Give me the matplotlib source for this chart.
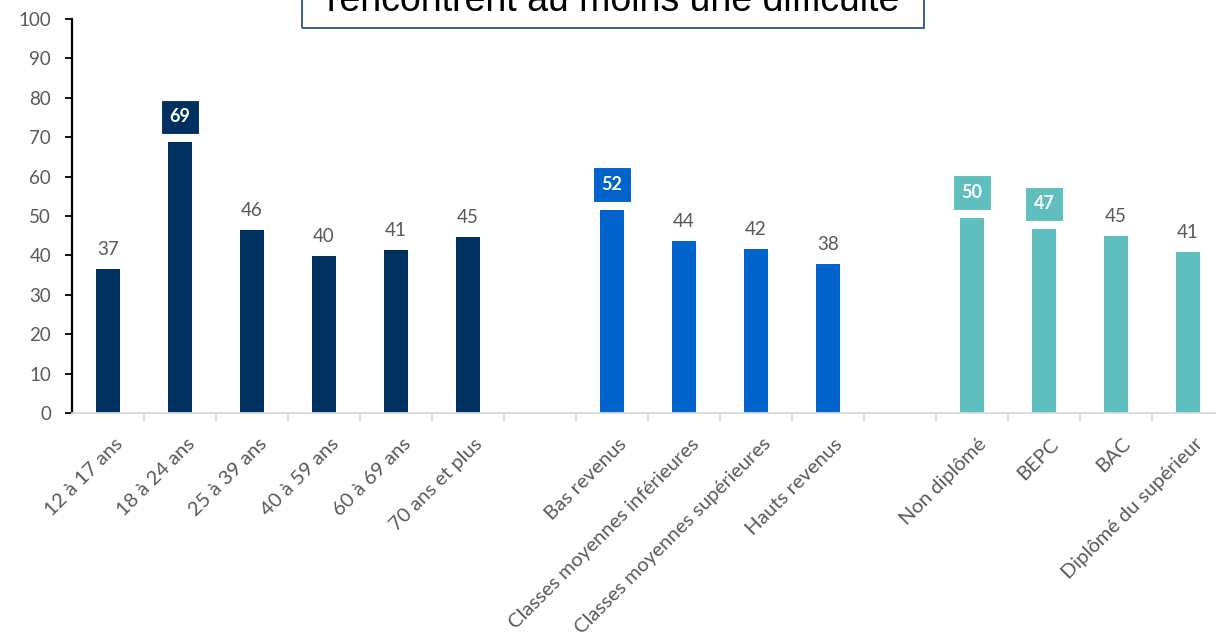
import matplotlib
matplotlib.use("Agg")
import matplotlib.pyplot as plt
from matplotlib.patches import Rectangle
from matplotlib.transforms import ScaledTranslation
import numpy as np

# ---------------- data ----------------
age_labels = ["12 à 17 ans", "18 à 24 ans", "25 à 39 ans", "40 à 59 ans", "60 à 69 ans", "70 ans et plus"]
age_values = [36.6, 68.8, 46.4, 39.8, 41.3, 44.7]
age_highlight = [False, True, False, False, False, False]

income_labels = ["Bas revenus", "Classes moyennes inférieures", "Classes moyennes supérieures", "Hauts revenus"]
income_values = [51.6, 43.7, 41.6, 37.9]
income_highlight = [True, False, False, False]

edu_labels = ["Non diplômé", "BEPC", "BAC", "Diplômé du supérieur"]
edu_values = [49.6, 46.7, 44.8, 40.9]
edu_highlight = [True, True, False, False]

title_text = "rencontrent au moins une difficulté"

yticks = list(range(0, 101, 10))

# ---------------- style ----------------
navy = "#00305F"
blue = "#0062CB"
teal = "#5FBFBF"
gray_txt = "#595959"
font = ["Lato", "DejaVu Sans"]
plt.rcParams["font.family"] = font

groups = [
    (age_labels, age_values, age_highlight, navy),
    (income_labels, income_values, income_highlight, blue),
    (edu_labels, edu_values, edu_highlight, teal),
]

fig = plt.figure(figsize=(12.16, 6.42), dpi=100)
W, H = 1216, 642
ax = fig.add_axes([72 / W, (H - 413) / H, (1224 - 72) / W, (413 - 19) / H])

xpos_all, labels_all = [], []
pos = 0
for labels, values, hl, color in groups:
    xs = np.arange(pos, pos + len(values))
    ax.bar(xs, values, width=0.32, color=color, zorder=2)
    for x, v, h in zip(xs, values, hl):
        txt = f"{v:.0f}"
        if h:
            ax.annotate(txt, (x, v), xytext=(0, 12), textcoords="offset points",
                        ha="center", va="bottom", color="white", fontsize=13,
                        fontweight="bold",
                        bbox=dict(boxstyle="square,pad=0.48", fc=color, ec="white", lw=0.8))
        else:
            ax.annotate(txt, (x, v), xytext=(0, 8), textcoords="offset points",
                        ha="center", va="bottom", color=gray_txt, fontsize=13.5)
    xpos_all.extend(xs)
    labels_all.extend(labels)
    pos += len(values) + 1

ax.set_xlim(-0.5, pos - 1.5)
ax.set_ylim(0, 100)
ax.set_yticks(yticks)
ax.tick_params(axis="y", direction="out", length=5, width=1.3, color="black",
               labelcolor=gray_txt, labelsize=13.5, pad=10)
for s in ["top", "right"]:
    ax.spines[s].set_visible(False)
ax.spines["left"].set_color("black")
ax.spines["left"].set_linewidth(1.6)
ax.spines["bottom"].set_color("#D9D9D9")
ax.spines["bottom"].set_linewidth(1.3)

ax.set_xticks(xpos_all)
ax.set_xticklabels(labels_all, rotation=45, ha="right", rotation_mode="anchor",
                   color=gray_txt, fontsize=14.5)
ax.tick_params(axis="x", length=0, pad=16)
shift = ScaledTranslation(6 / 100, 0, fig.dpi_scale_trans)
for lab in ax.get_xticklabels():
    lab.set_transform(lab.get_transform() + shift)
ax.set_xticks(np.arange(-0.5, pos - 1.5, 1.0)[1:], minor=True)
ax.tick_params(axis="x", which="minor", length=6, width=1.3, color="#D9D9D9", direction="out")

# title box (cut off at top, as in the source)
fig.patches.append(Rectangle((302 / W, 1 - 28 / H), (924 - 302) / W, 0.2,
                             transform=fig.transFigure, fill=False,
                             ec="#2F528F", lw=1.3, clip_on=False))
fig.text(613 / W, 1 - 11 / H, title_text, ha="center", va="baseline",
         fontsize=27, family=["Liberation Sans", "DejaVu Sans"], color="black")

fig.savefig("out.png", dpi=100)
